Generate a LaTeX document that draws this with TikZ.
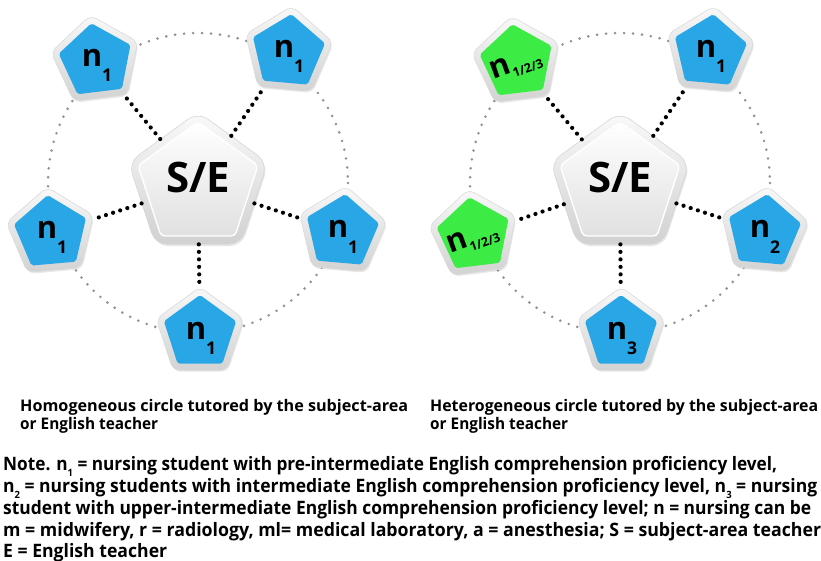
\documentclass[tikz,border=0pt]{standalone}
\usepackage{fontspec}
\setmainfont{Open Sans}
\usetikzlibrary{shapes.geometric,shadows,backgrounds}
\definecolor{nblue}{HTML}{29A6E6}
\definecolor{ngreen}{HTML}{3DEB45}
\newsavebox\fitbox
\newcommand\fitto[2]{\sbox\fitbox{#2}\pgfmathsetmacro\fitsx{#1/\the\wd\fitbox}\scalebox{\fitsx}[1]{\usebox\fitbox}}
\newcommand\nsub[1]{n\raisebox{-6pt}{\fontsize{10}{10}\selectfont #1}}
\newcommand\bign[1]{n\raisebox{-15pt}{\fontsize{17.5}{17.5}\selectfont #1}}
\newcommand\mixn{n\raisebox{-6pt}{\fontsize{12.5}{12.5}\selectfont 1/2/3}}
\tikzset{
  rim/.style={regular polygon, regular polygon sides=5, minimum size=92pt, inner sep=0pt,
    rounded corners=7pt, top color=gray!5, bottom color=gray!35, draw=gray!28, line width=0.6pt,
    drop shadow={opacity=0.18, shadow xshift=1pt, shadow yshift=-1.5pt}},
  core/.style={regular polygon, regular polygon sides=5, minimum size=76pt, inner sep=0pt, rounded corners=2pt},
  bluecore/.style={core, fill=nblue},
  greencore/.style={core, fill=ngreen},
  hubrim/.style={regular polygon, regular polygon sides=5, minimum size=146pt, inner sep=0pt,
    rounded corners=12pt, top color=gray!4, bottom color=gray!36, draw=gray!32, line width=0.6pt,
    drop shadow={opacity=0.2, shadow xshift=1pt, shadow yshift=-2pt}},
  hubcore/.style={regular polygon, regular polygon sides=5, minimum size=126pt, inner sep=0pt,
    rounded corners=4pt, top color=white, bottom color=gray!24, draw=white, line width=1.4pt},
  tie/.style={line width=4.2pt, line cap=round, dash pattern=on 0pt off 7.5pt, black},
  ring/.style={line width=2.9pt, line cap=round, dash pattern=on 0pt off 9pt, gray!85},
  nlab/.style={font=\bfseries\fontsize{31}{31}\selectfont, inner sep=0pt, anchor=base},
  mlab/.style={font=\bfseries\fontsize{31}{31}\selectfont, inner sep=0pt},
  hublab/.style={font=\bfseries\fontsize{42}{42}\selectfont, inner sep=0pt, anchor=base},
  caption/.style={font=\bfseries\fontsize{16}{17}\selectfont, inner sep=0pt, anchor=base west},
  notetext/.style={font=\bfseries\fontsize{18.5}{22}\selectfont, inner sep=0pt, anchor=base west},
}
\begin{document}
\begin{tikzpicture}[x=1pt,y=-1pt]
\useasboundingbox (0,0) rectangle (821,561);

% ---------- left diagram ----------
\node[hubrim] (h1) at (198,185) {};
\node[hubcore] (h1i) at (h1.center) {};
\node[hublab] (h1t) at ([yshift=-8pt]h1.center) {S/E};

\node[rim, shape border rotate=7] (a1) at (96,61) {};
\node[bluecore, shape border rotate=7] (a1i) at (a1.center) {};
\node[nlab] (a1t) at ([shift={(1pt,-6pt)}]a1.center) {\bign{1}};

\node[rim, shape border rotate=-5] (a2) at (288,52) {};
\node[bluecore, shape border rotate=-5] (a2i) at (a2.center) {};
\node[nlab] (a2t) at ([shift={(1pt,-6pt)}]a2.center) {\bign{1}};

\node[rim, shape border rotate=5] (a3) at (51,233) {};
\node[bluecore, shape border rotate=5] (a3i) at (a3.center) {};
\node[nlab] (a3t) at ([shift={(1pt,-6pt)}]a3.center) {\bign{1}};

\node[rim, shape border rotate=-5] (a4) at (342,232) {};
\node[bluecore, shape border rotate=-5] (a4i) at (a4.center) {};
\node[nlab] (a4t) at ([shift={(1pt,-6pt)}]a4.center) {\bign{1}};

\node[rim] (a5) at (200,333) {};
\node[bluecore] (a5i) at (a5.center) {};
\node[nlab] (a5t) at ([shift={(1pt,-6pt)}]a5.center) {\bign{1}};

\foreach \o in {a1,a2,a3,a4,a5} \draw[tie] (h1) -- (\o);

% ---------- right diagram ----------
\node[hubrim] (h2) at (620,185) {};
\node[hubcore] (h2i) at (h2.center) {};
\node[hublab] (h2t) at ([yshift=-8pt]h2.center) {S/E};

\node[rim, shape border rotate=7] (b1) at (517,62) {};
\node[greencore, shape border rotate=7] (b1i) at (b1.center) {};
\node[mlab, rotate=20] (b1t) at ([shift={(-1pt,-3pt)}]b1.center) {\mixn};

\node[rim, shape border rotate=-5] (b2) at (710,52) {};
\node[bluecore, shape border rotate=-5] (b2i) at (b2.center) {};
\node[nlab] (b2t) at ([shift={(1pt,-6pt)}]b2.center) {\bign{1}};

\node[rim, shape border rotate=7] (b3) at (474,235) {};
\node[greencore, shape border rotate=7] (b3i) at (b3.center) {};
\node[mlab, rotate=20] (b3t) at ([shift={(-1pt,-4pt)}]b3.center) {\mixn};

\node[rim, shape border rotate=-5] (b4) at (764,232) {};
\node[bluecore, shape border rotate=-5] (b4i) at (b4.center) {};
\node[nlab] (b4t) at ([shift={(1pt,-6pt)}]b4.center) {\bign{2}};

\node[rim] (b5) at (621,333) {};
\node[bluecore] (b5i) at (b5.center) {};
\node[nlab] (b5t) at ([shift={(1pt,-6pt)}]b5.center) {\bign{3}};

\foreach \o in {b1,b2,b3,b4,b5} \draw[tie] (h2) -- (\o);

\begin{pgfonlayer}{background}
  \fill[white] (0,0) rectangle (821,561);
  \draw[ring] ([yshift=2pt]h1.center) circle[radius=150];
  \draw[ring] ([yshift=2pt]h2.center) circle[radius=150];
\end{pgfonlayer}

% ---------- captions ----------
\node[caption] (c1a) at (20,411.5) {\fitto{388}{Homogeneous circle tutored by the subject-area}};
\node[caption] (c1b) at (20,429) {\fitto{138}{or English teacher}};
\node[caption] (c2a) at (430,411.5) {\fitto{388}{Heterogeneous circle tutored by the subject-area}};
\node[caption] (c2b) at (430,429) {\fitto{138}{or English teacher}};

% ---------- note ----------
\node[notetext] (t1) at (3,470) {\fitto{774}{Note. \nsub{1} = nursing student with pre-intermediate English comprehension proficiency level,}};
\node[notetext] (t2) at (3,492) {\fitto{814}{\nsub{2} = nursing students with intermediate English comprehension proficiency level, \nsub{3} = nursing}};
\node[notetext] (t3) at (3,514) {\fitto{808}{student with upper-intermediate English comprehension proficiency level; n = nursing can be}};
\node[notetext] (t4) at (3,536) {\fitto{818}{m = midwifery, r = radiology, ml= medical laboratory, a = anesthesia; S = subject-area teacher}};
\node[notetext] (t5) at (3,557) {\fitto{164}{E = English teacher}};
\end{tikzpicture}
\end{document}
